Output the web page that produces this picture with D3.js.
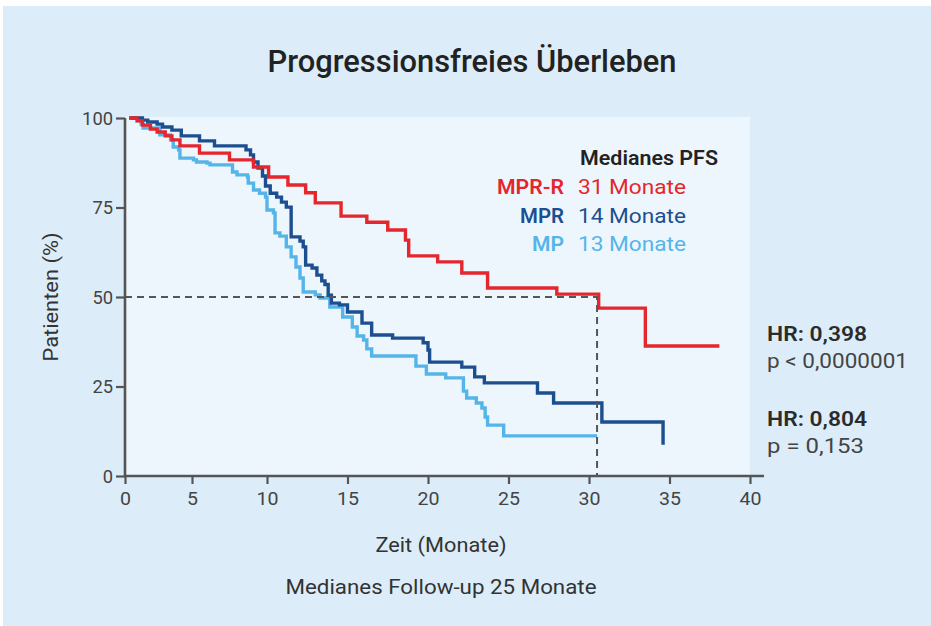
<!DOCTYPE html>
<html><head><meta charset="utf-8">
<script src="https://cdn.jsdelivr.net/npm/d3@7"></script>
<style>
body{margin:0;background:#fff}
svg{display:block}
text{font-family:Roboto,"Noto Sans","Open Sans",sans-serif}
</style>
</head><body>
<svg id="c" width="931" height="626"></svg>
<script>
// ---------- data ----------
const xTicks = [0, 5, 10, 15, 20, 25, 30, 35, 40];
const yTicks = [0, 25, 50, 75, 100];

const mprrTime = [0.3, 0.9, 1.3, 1.9, 2.4, 3.0, 3.5, 4.1, 5.5, 7.5, 9.1, 10.1, 11.3, 12.4, 13.0, 14.6, 16.2, 17.5, 18.6, 18.8, 20.6, 22.1, 23.7, 28.0, 30.6, 33.5, 38.1];
const mprrSurv = [100, 99.2, 98, 96.9, 96.1, 95, 93.9, 92.2, 90.2, 88.3, 86.3, 83.5, 81.3, 79.1, 76.3, 72.6, 70.9, 68.7, 65.9, 61.5, 59.8, 56.7, 52.5, 50.8, 46.9, 36.3, 36.3];

const mprTime = [0.4, 1.3, 1.7, 2.4, 2.8, 3.5, 4.2, 5.5, 6.5, 8.6, 8.9, 9.1, 9.4, 9.7, 9.9, 10.2, 10.6, 10.9, 11.2, 11.5, 12.05, 12.25, 12.4, 12.8, 13.1, 13.4, 13.6, 13.8, 14.0, 14.5, 15.0, 15.9, 16.5, 17.8, 19.7, 20.0, 20.1, 22.1, 22.9, 23.5, 26.8, 27.8, 30.8, 34.6];
const mprSurv = [100, 99.4, 98.9, 98.3, 97.5, 96.6, 95, 93.6, 92.2, 91.1, 89.7, 87.7, 86, 83.8, 81, 79, 77.9, 76.5, 75.1, 66.8, 65.6, 64, 58.9, 58.1, 56.1, 54.5, 53.5, 50.5, 48.3, 47.8, 45.8, 42.7, 39.4, 38.5, 37.2, 35.2, 31.8, 30.4, 27.7, 26, 23.2, 20.4, 15.1, 8.7];

const mpTime = [0.3, 1.0, 1.2, 1.35, 2.6, 3.4, 3.6, 4.0, 4.1, 5.1, 5.3, 6.0, 6.2, 7.7, 8.0, 8.7, 8.75, 9.1, 9.5, 9.9, 10.0, 10.4, 10.5, 10.8, 11.2, 11.5, 11.8, 12.05, 12.25, 13.0, 13.3, 13.9, 14.7, 15.3, 15.6, 16.0, 16.2, 16.5, 19.25, 19.9, 21.1, 22.2, 22.4, 23.0, 23.35, 23.55, 23.7, 24.7, 30.5];
const mpSurv = [100, 99.2, 98.3, 97.2, 95.3, 93.9, 91.9, 91.1, 88.8, 88.3, 87.7, 87.4, 86.9, 84.9, 84.1, 83.5, 81.8, 79.9, 79, 77.9, 74.3, 73.5, 67.9, 67, 64, 61.2, 58.4, 55.3, 51.4, 50.6, 49.7, 47.2, 44.4, 41.6, 39.1, 38, 35.5, 33.5, 30.7, 28.5, 27.4, 23.7, 21.8, 20.4, 19, 16.5, 14.2, 11.2, 11.2];

const seriesNames = ["MP", "MPR", "MPR-R"];
const seriesColors = ["#55b5e8", "#1c4f8f", "#e4262d"];
const medianLabels = ["13 Monate", "14 Monate", "31 Monate"];

const medianLevel = 50;
const medianTime = 30.5;

const title = "Progressionsfreies Überleben";
const xTitle = "Zeit (Monate)";
const yTitle = "Patienten (%)";
const footnote = "Medianes Follow-up 25 Monate";
const legendTitle = "Medianes PFS";
const statLines = [["HR: 0,398", "p < 0,0000001"], ["HR: 0,804", "p = 0,153"]];

// ---------- drawing ----------
const svg = d3.select("#c");
const axisCol = "#555";

function squeeze(sel, w) {
  return sel.attr("textLength", w).attr("lengthAdjust", "spacingAndGlyphs");
}

svg.append("rect").attr("x", 3).attr("y", 6).attr("width", 928).attr("height", 620).attr("fill", "#dcedf9");

const x = d3.scaleLinear().domain([0, 5, 10, 40]).range([125, 192, 267, 750]);
const y = d3.scaleLinear().domain([0, 100]).range([476, 118]);

svg.append("rect").attr("x", x(0)).attr("y", y(100) - 1).attr("width", x(40) - x(0)).attr("height", y(0) - y(100) + 1).attr("fill", "#eef6fd");

// curves
const series = [
  { t: mpTime, s: mpSurv },
  { t: mprTime, s: mprSurv },
  { t: mprrTime, s: mprrSurv }
];
const line = d3.line().x(d => x(d[0])).y(d => y(d[1])).curve(d3.curveStepAfter);
series.forEach((sr, i) => {
  const pts = sr.t.map((t, j) => [t, sr.s[j]]);
  svg.append("path").attr("d", line(pts)).attr("fill", "none")
    .attr("stroke", seriesColors[i]).attr("stroke-width", 3.4).attr("stroke-linejoin", "miter");
});

// median dashed lines
svg.append("path")
  .attr("d", d3.line()([[x(0), y(medianLevel)], [x(medianTime), y(medianLevel)], [x(medianTime), y(0)]]))
  .attr("fill", "none").attr("stroke", axisCol).attr("stroke-width", 2).attr("stroke-dasharray", "7,5");

// axes
const xAxis = svg.append("g").attr("transform", `translate(0,${y(0)})`)
  .call(d3.axisBottom(x).tickValues(xTicks).tickSize(8).tickPadding(7));
xAxis.select(".domain").remove();
xAxis.append("line").attr("x1", x(0) - 1).attr("x2", x(40) + 14).attr("y1", 0).attr("y2", 0)
  .attr("stroke", axisCol).attr("stroke-width", 2.6);
const yAxis = svg.append("g").attr("transform", `translate(${x(0)},0)`)
  .call(d3.axisLeft(y).tickValues(yTicks).tickSize(9).tickPadding(3));
yAxis.select(".domain").remove();
yAxis.append("line").attr("x1", 0).attr("x2", 0).attr("y1", y(100)).attr("y2", y(0) + 1)
  .attr("stroke", axisCol).attr("stroke-width", 2.6);
[xAxis, yAxis].forEach(a => {
  a.selectAll(".tick line").attr("stroke", axisCol).attr("stroke-width", 2.2);
  a.selectAll(".tick text").attr("fill", "#444").attr("font-size", 19)
    .style("font-family", 'Roboto,"Noto Sans",sans-serif');
});
xAxis.selectAll(".tick text").attr("dy", "0.75em");
yAxis.selectAll(".tick text").attr("textLength", d => String(d).length * 10.3).attr("lengthAdjust", "spacingAndGlyphs");
xAxis.selectAll(".tick text").attr("textLength", d => String(d).length * 11).attr("lengthAdjust", "spacingAndGlyphs");

// title
squeeze(svg.append("text").attr("x", 472).attr("y", 72).attr("text-anchor", "middle")
  .attr("font-size", 31).attr("font-weight", 500).attr("fill", "#222").text(title), 409);

// axis titles
squeeze(svg.append("text").attr("x", 441).attr("y", 552).attr("text-anchor", "middle")
  .attr("font-size", 21).attr("fill", "#333").text(xTitle), 131);
squeeze(svg.append("text").attr("transform", "translate(58,297) rotate(-90)").attr("text-anchor", "middle")
  .attr("font-size", 21).attr("fill", "#333").text(yTitle), 129);
squeeze(svg.append("text").attr("x", 441).attr("y", 594).attr("text-anchor", "middle")
  .attr("font-size", 21).attr("fill", "#333").text(footnote), 311);

// legend
squeeze(svg.append("text").attr("x", 580).attr("y", 165)
  .attr("font-size", 21).attr("font-weight", 600).attr("fill", "#222").text(legendTitle), 138);
const order = [2, 1, 0];
const nameWidths = { "MPR-R": 67, "MPR": 44, "MP": 32 };
order.forEach((si, k) => {
  const yy = 194 + k * 28.5;
  squeeze(svg.append("text").attr("x", 564).attr("y", yy).attr("text-anchor", "end")
    .attr("font-size", 21).attr("font-weight", 600).attr("fill", seriesColors[si]).text(seriesNames[si]), nameWidths[seriesNames[si]]);
  squeeze(svg.append("text").attr("x", 578).attr("y", yy)
    .attr("font-size", 21).attr("fill", seriesColors[si]).text(medianLabels[si]), 108);
});

// stats
statLines.forEach((pair, k) => {
  const y0 = k === 0 ? 341 : 426;
  squeeze(svg.append("text").attr("x", 767).attr("y", y0).attr("font-size", 21).attr("font-weight", 600)
    .attr("fill", "#2b2b2b").text(pair[0]), 100);
  squeeze(svg.append("text").attr("x", 767).attr("y", y0 + 27).attr("font-size", 21)
    .attr("fill", "#444").text(pair[1]), k === 0 ? 141 : 97);
});
</script>
</body></html>
